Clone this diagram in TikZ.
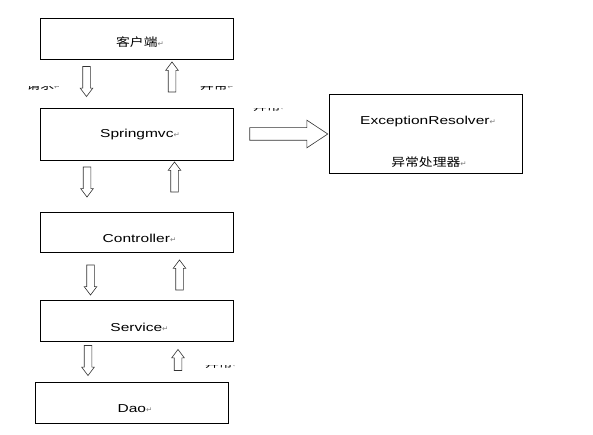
\documentclass[tikz,border=0pt]{standalone}
\usepackage{fontspec}
\setmainfont[FakeStretch=1.35]{Liberation Sans}
\newfontfamily\cjk[FakeStretch=1.2]{Noto Sans CJK SC}
\newfontfamily\symb{DejaVu Sans}
\usetikzlibrary{shapes.arrows,positioning,calc}
\tikzset{
  tier/.style  ={draw,line width=0.8pt,minimum width=193pt,minimum height=41pt,inner sep=0pt},
  word/.style  ={font=\fontsize{11.5}{13}\selectfont,inner sep=0pt,text height=8pt,text depth=2.5pt},
  flow/.style  ={single arrow,draw=black!80,line width=0.6pt,fill=white,inner sep=3.5pt,
                 minimum width=12pt,minimum height=30pt,single arrow tip angle=74,
                 single arrow head extend=2.5pt,single arrow head indent=0pt},
  godown/.style={flow,shape border rotate=270},
  goup/.style  ={flow,shape border rotate=90},
}
\newcommand{\ret}{{\symb\fontsize{7.5}{7.5}\selectfont\color{gray}↵}}

\begin{document}
\begin{tikzpicture}[x=1pt,y=-1pt]
\useasboundingbox (0,0) rectangle (593,435);
% layers of the stack
\node[tier] (client) at (137,38.8) {};
\node[tier,minimum height=52pt] (mvc) at (137,134.3) {};
\node[tier,minimum height=40pt] (ctrl) at (137,232.3) {};
\node[tier] (svc) at (137,320.7) {};
\node[tier] (dao) at (132,402.8) {};
\node[tier,minimum height=79pt] (resolver) at (425.7,133.8) {};

\node[word] (clientt) at (140,44) {{\cjk 客户端}\ret};
\node[word] (mvct) at (140,135) {Springmvc\ret};
\node[word] (ctrlt) at (139.5,240) {Controller\ret};
\node[word] (svct) at (139.5,329) {Service\ret};
\node[word] (daot) at (135,410) {Dao\ret};
\node[word] (rest) at (428,122) {ExceptionResolver\ret};
\node[word] (resct) at (429,164) {{\cjk 异常处理器}\ret};

% hollow arrows between the layers
\node[godown] (a1) at (86.5,79) {};
\node[goup] (b1) at (172,79.5) {};
\node[godown] (a2) at (87,179.5) {};
\node[goup] (b2) at (174.5,179.5) {};
\node[godown] (a3) at (90.5,277.5) {};
\node[goup] (b3) at (179.5,277.5) {};
\node[godown] (a4) at (88,358) {};
\node[goup,minimum height=21pt] (b4) at (178,362.5) {};
\node[flow,minimum width=27pt,minimum height=78pt,inner sep=6pt,
      single arrow head extend=7.5pt,single arrow tip angle=67] (hand) at (284,134) {};

% labels cut off at the top
\foreach \nm/\px/\py/\lab in {req/43.5/85/请求, ex1/217/85/异常, ex2/270/106.5/异常, ex3/222/363/异常}{
  \begin{scope}
    \clip (\px-30,\py+2) rectangle (\px+30,\py+8);
    \node[word,anchor=base] (\nm) at (\px,\py+4.5) {{\cjk \lab}\ret};
  \end{scope}}
\end{tikzpicture}
\end{document}
